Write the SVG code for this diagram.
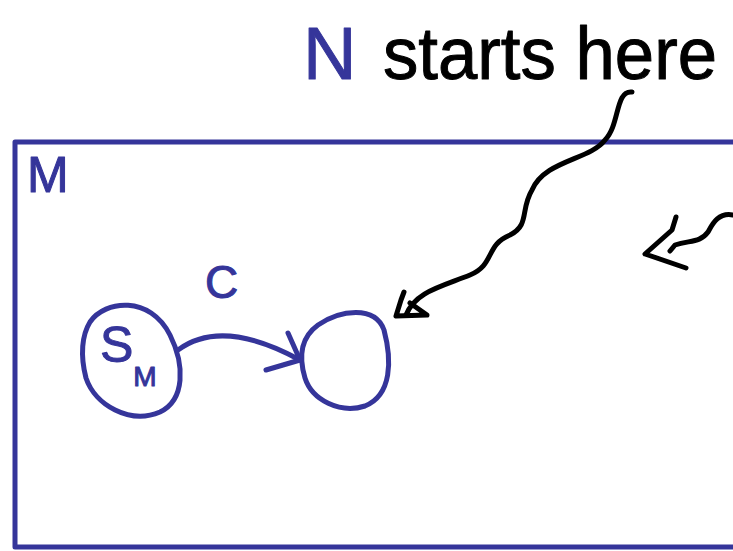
<svg xmlns="http://www.w3.org/2000/svg" width="733" height="551" viewBox="0 0 733 551">
<defs>
<style>
.blue{stroke:#35359a;fill:none;stroke-width:5;stroke-linecap:round;stroke-linejoin:round}
.ink{stroke:#000;fill:none;stroke-width:5;stroke-linecap:round;stroke-linejoin:round}
.bt{font-family:"Liberation Sans",Arial,sans-serif;fill:#35359a;stroke:#35359a;stroke-width:1;stroke-linejoin:round}
.kt{font-family:"Liberation Sans",Arial,sans-serif;fill:#000;stroke:#000;stroke-width:1;stroke-linejoin:round}
</style>
</defs>
<rect width="733" height="551" fill="#fff"/>
<g id="title">
<text class="bt" x="303" y="79" font-size="74">N</text>
<text class="kt" x="383" y="79" font-size="74" textLength="334" lengthAdjust="spacingAndGlyphs">starts here</text>
</g>
<g id="M">
<path class="blue" d="M733,547 L15,547 L15,142 L733,142"/>
<text class="bt" x="27" y="192" font-size="50">M</text>
</g>
<g id="Sm">
<path class="blue" d="M90,322 C105,300 150,295 170,335 C185,365 185,400 160,412 C130,425 95,405 86,378 C80,355 82,335 90,322 Z"/>
<text class="bt" x="100" y="362" font-size="50">S<tspan font-size="28" dy="24">M</tspan></text>
</g>
<g id="N">
<path class="blue" d="M318,325 C340,310 375,305 384,330 C392,360 392,395 365,406 C340,414 312,400 305,378 C299,358 300,338 318,325 Z"/>
</g>
<g id="connectors">
<path class="blue" d="M178,350 C205,330 245,330 300,360"/>
<path class="blue" d="M266,370 L300,360 L288,333"/>
<text class="bt" x="205" y="298" font-size="46">C</text>
<path class="ink" d="M632,92 C615,90 620,125 605,140 C590,160 545,160 532,190 C520,210 530,225 510,235 C485,245 495,265 470,275 C440,287 415,292 406,315"/>
<path class="ink" d="M404,292 L401,300 L396,316 L427,315 L410,303"/>
<path class="ink" d="M733,215 C718,212 712,225 708,232 C700,243 690,240 675,245 L670,251"/>
<path class="ink" d="M676,217 L672,230 L645,254 L686,268"/>
</g>
</svg>
